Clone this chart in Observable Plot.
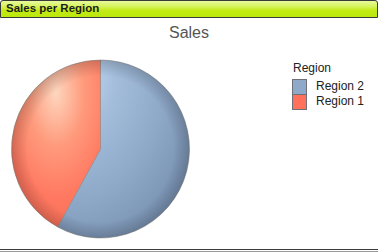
<!DOCTYPE html>
<html><head><meta charset="utf-8">
<script src="https://cdn.jsdelivr.net/npm/d3@7"></script>
<script src="https://cdn.jsdelivr.net/npm/@observablehq/plot@0.6"></script>
<style>
body{margin:0;background:#fff;font-family:"Liberation Sans",Arial,sans-serif;}
#wrap{position:relative;width:378px;height:252px;overflow:hidden;}
#hdr{position:absolute;left:0;top:0;width:376px;height:16px;border:1px solid #3a3a3a;border-radius:3px 3px 0 0;
background:linear-gradient(#e8fa9c 0%,#d6f35a 35%,#c2ea14 60%,#bde80e 100%);}
#hdr span{position:absolute;left:5px;top:1px;font:bold 11.5px "Liberation Sans",Arial,sans-serif;color:#1c1c1c;}
#title{position:absolute;left:0;width:378px;text-align:center;top:24px;font-size:16px;color:#555;}
#bot{position:absolute;left:0;top:249px;width:378px;height:1px;border-top:1px solid #3c3c3c;border-bottom:1px solid #9a9a9a;}
#chart{position:absolute;left:0;top:18px;}
.leg{position:absolute;font-size:12px;color:#222;}
.sw{position:absolute;width:13px;height:14px;border:1px solid #6f6f7a;}
</style></head>
<body>
<div id="wrap">
<div id="hdr"><span>Sales per Region</span></div>
<div id="title">Sales</div>
<div id="chart"></div>
<div id="legend"></div>
<div id="bot"></div>
</div>
<script>
const regions = ["Region 2", "Region 1"];
const sales = [58, 42];
const colors = ["#8fa9c9", "#ff715b"];
const legendTitle = "Region";

const data = regions.map((r, i) => ({region: r, sales: sales[i]}));
const arcs = d3.pie().value(d => d.sales).sort(null)(data);

const H = 232;
const pieMark = (index, scales, values, dims) => {
  const svg = d3.create("svg:g");
  const cx = scales.x(0), cy = scales.y(0);
  const r = Math.abs(scales.x(1) - scales.x(0));
  const defs = svg.append("defs");
  const grads = [
    {id: "g0", fx: 0.08, fy: 0.06, stops: [["#c6e1fb",0],["#a3bddb",0.35],["#8ea8c8",0.7],["#7a93b3",1]]},
    {id: "g1", fx: 0.5, fy: 0.2, stops: [["#fdd6be",0],["#ff9a7c",0.3],["#ff7860",0.6],["#f2674f",1]]}
  ];
  grads.forEach(g => {
    const rg = defs.append("radialGradient").attr("id", g.id)
      .attr("cx", g.fx).attr("cy", g.fy).attr("fx", g.fx).attr("fy", g.fy).attr("r", 1.05);
    g.stops.forEach(([c, o]) => rg.append("stop").attr("offset", o).attr("stop-color", c));
  });
  const shade = defs.append("radialGradient").attr("id", "edge").attr("gradientUnits","userSpaceOnUse")
    .attr("cx", cx).attr("cy", cy).attr("r", r);
  shade.append("stop").attr("offset", 0.82).attr("stop-color", "#000").attr("stop-opacity", 0);
  shade.append("stop").attr("offset", 1).attr("stop-color", "#000").attr("stop-opacity", 0.18);
  const arc = d3.arc().innerRadius(0).outerRadius(r);
  const g = svg.append("g").attr("transform", `translate(${cx},${cy})`);
  arcs.forEach((a, i) => {
    g.append("path").attr("d", arc(a)).attr("fill", `url(#g${i})`)
      .attr("stroke", "#8a8a8a").attr("stroke-width", 0.6);
  });
  g.append("circle").attr("r", r).attr("fill", "url(#edge)").attr("transform", `translate(${-cx},${-cy})`).attr("cx", cx).attr("cy", cy);
  return svg.node();
};

const chart = Plot.plot({
  width: 378, height: H,
  marginLeft: 11.5, marginRight: 188.5, marginTop: 42, marginBottom: H - 220,
  x: {domain: [-1, 1], axis: null},
  y: {domain: [1, -1], axis: null},
  style: {background: "transparent", overflow: "visible"},
  marks: [pieMark]
});
document.getElementById("chart").appendChild(chart);

const leg = document.getElementById("legend");
const t = document.createElement("div");
t.className = "leg"; t.style.left = "293px"; t.style.top = "61px"; t.textContent = legendTitle;
leg.appendChild(t);
regions.forEach((r, i) => {
  const s = document.createElement("div");
  s.className = "sw"; s.style.left = "292px"; s.style.top = (79 + i * 15) + "px"; s.style.background = colors[i];
  leg.appendChild(s);
  const l = document.createElement("div");
  l.className = "leg"; l.style.left = "316px"; l.style.top = (79 + i * 15) + "px"; l.textContent = r;
  leg.appendChild(l);
});
</script>
</body></html>
